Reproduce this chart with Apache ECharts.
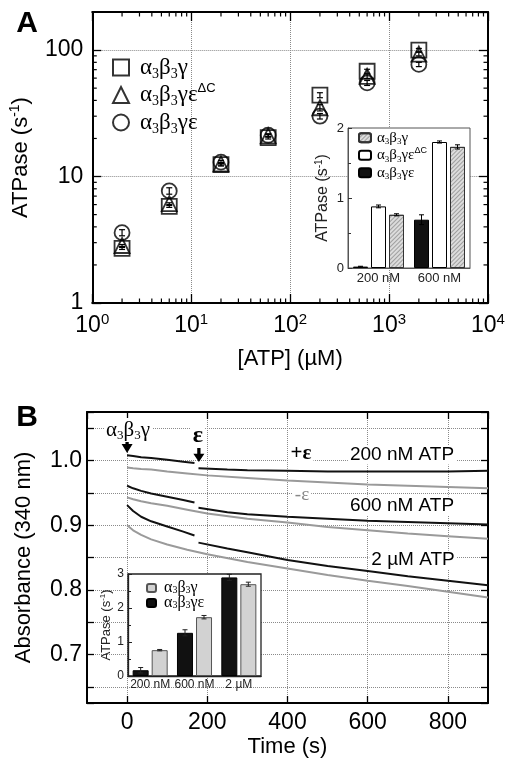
<!DOCTYPE html>
<html><head><meta charset="utf-8">
<script src="https://cdn.jsdelivr.net/npm/echarts@6/dist/echarts.min.js"></script>
<style>html,body{margin:0;padding:0;background:#fff}#c{width:510px;height:759px}</style>
</head><body><div id="c"></div>
<script>
// ---------- Panel A : main log-log plot ----------
const atpA = [2, 6, 20, 60, 200, 600, 2000];            // [ATP] (µM)
const rateGamma  = [2.7, 5.8, 12.4, 20.3, 44, 68, 100];  // α3β3γ
const rateDeltaC = [2.85, 6.1, 12.6, 21.0, 35, 62, 93];  // α3β3γε(ΔC)
const rateEps    = [3.6, 7.7, 13.0, 21.2, 30, 55, 77];   // α3β3γε
const errGamma  = [0.05, 0.1, 0.3, 0.5, 2.0, 2.5, 3.0];
const errDeltaC = [0.05, 0.1, 0.3, 0.5, 2.0, 2.5, 3.0];
const errEps    = [0.2, 0.45, 0.4, 0.6, 1.5, 2.5, 3.0];

// ---------- Panel A : inset bars ----------
const catsInsetA = ['200 nM', '600 nM'];
const insetA_eps    = [0.02, 0.69];
const insetA_deltaC = [0.88, 1.80];
const insetA_gamma  = [0.76, 1.73];
const insetA_errEps    = [0.005, 0.07];
const insetA_errDeltaC = [0.02, 0.015];
const insetA_errGamma  = [0.015, 0.03];

// ---------- Panel B : absorbance traces ----------
const tGray = [0, 15, 35, 60, 100, 150, 200, 300, 400, 500, 600, 700, 800, 900];
const gray200 = [0.989, 0.988, 0.987, 0.986, 0.983, 0.980, 0.977, 0.973, 0.969, 0.966, 0.963, 0.961, 0.959, 0.957];
const gray600 = [0.943, 0.940, 0.937, 0.934, 0.930, 0.924, 0.918, 0.910, 0.904, 0.897, 0.892, 0.887, 0.883, 0.879];
const gray2u  = [0.900, 0.892, 0.885, 0.878, 0.870, 0.862, 0.855, 0.843, 0.833, 0.823, 0.814, 0.806, 0.797, 0.788];
const tBlackPre  = [0, 15, 35, 60, 100, 140, 168];
const tBlackPost = [178, 250, 300, 400, 500, 600, 700, 800, 900];
const black200Pre  = [1.008, 1.007, 1.005, 1.004, 1.001, 0.998, 0.996];
const black200Post = [0.988, 0.986, 0.985, 0.984, 0.983, 0.983, 0.983, 0.983, 0.984];
const black600Pre  = [0.961, 0.957, 0.953, 0.949, 0.944, 0.939, 0.935];
const black600Post = [0.927, 0.920, 0.917, 0.913, 0.910, 0.907, 0.905, 0.903, 0.901];
const black2uPre   = [0.931, 0.922, 0.913, 0.906, 0.898, 0.890, 0.884];
const black2uPost  = [0.873, 0.864, 0.858, 0.846, 0.837, 0.829, 0.821, 0.814, 0.807];
// arrows (time at which each protein was added)
const arrowTimes = [0, 179];
const arrowTops  = [1.024, 1.0093];

// ---------- Panel B : inset bars ----------
const catsInsetB = ['200 nM', '600 nM', '2 µM'];
const insetB_eps   = [0.17, 1.27, 2.90];
const insetB_gamma = [0.76, 1.73, 2.70];
const insetB_errEps   = [0.08, 0.09, 0.09];
const insetB_errGamma = [0.02, 0.05, 0.06];

// ---------- helpers ----------
const F = 'Liberation Sans, Arial, Helvetica, sans-serif';
const FS = 'Liberation Serif, Times New Roman, serif';
function greekRich(fs, lh) {
  return {
    t:  {fontFamily: FS, fontSize: fs, lineHeight: lh, color: '#000'},
    sb: {fontFamily: FS, fontSize: Math.round(fs * 0.62), lineHeight: Math.round(fs * 0.62), verticalAlign: 'bottom', color: '#000'},
    sp: {fontFamily: F, fontSize: Math.round(fs * 0.58), lineHeight: Math.round(fs * 0.58), verticalAlign: 'top', color: '#000'}
  };
}
const G = '{t|α}{sb|3}{t|β}{sb|3}{t|γ}';
const labelMap = {
  sq: G, tri: G + '{t|ε}{sp|ΔC}', circ: G + '{t|ε}',
  iA_g: G, iA_dc: G + '{t|ε}{sp|ΔC}', iA_e: G + '{t|ε}',
  iB_g: G, iB_e: G + '{t|ε}'
};
const zip = (a, b) => a.map((v, i) => [v, b[i]]);

function errRenderLog(params, api) {
  const x = api.value(0), y = api.value(1), e = api.value(2);
  const p1 = api.coord([x, y + e]), p2 = api.coord([x, y - e]);
  const w = 3, st = {stroke: '#000', lineWidth: 1.2};
  return {type: 'group', children: [
    {type: 'line', shape: {x1: p1[0], y1: p1[1], x2: p2[0], y2: p2[1]}, style: st},
    {type: 'line', shape: {x1: p1[0] - w, y1: p1[1], x2: p1[0] + w, y2: p1[1]}, style: st},
    {type: 'line', shape: {x1: p2[0] - w, y1: p2[1], x2: p2[0] + w, y2: p2[1]}, style: st}
  ]};
}
function errRenderBar(bw, gapPx, n, color) {
  return function (params, api) {
    const c = api.value(0), v = api.value(1), e = api.value(2), k = api.value(3);
    const off = (k - (n - 1) / 2) * (bw + gapPx);
    const p1 = api.coord([c, v + e]), p2 = api.coord([c, v - e]);
    const x = p1[0] + off, w = 2.5, st = {stroke: color, lineWidth: 1};
    return {type: 'group', children: [
      {type: 'line', shape: {x1: x, y1: p1[1], x2: x, y2: p2[1]}, style: st},
      {type: 'line', shape: {x1: x - w, y1: p1[1], x2: x + w, y2: p1[1]}, style: st},
      {type: 'line', shape: {x1: x - w, y1: p2[1], x2: x + w, y2: p2[1]}, style: st}
    ]};
  };
}
// minor log ticks (decoration)
const minorTickData = [];
[1, 10, 100, 1000].forEach(d => { for (let m = 2; m <= 9; m++) minorTickData.push([d * m, 1, 0]); });
[1, 10, 100].forEach(d => { for (let m = 2; m <= 9; m++) if (d * m <= 200) minorTickData.push([1, d * m, 1]); });
function minorTickRender(params, api) {
  const cs = params.coordSys, L = 4.5, st = {stroke: '#000', lineWidth: 1.2};
  if (api.value(2) === 0) {
    const px = api.coord([api.value(0), 1])[0];
    return {type: 'group', children: [
      {type: 'line', shape: {x1: px, y1: cs.y + cs.height, x2: px, y2: cs.y + cs.height - L}, style: st},
      {type: 'line', shape: {x1: px, y1: cs.y, x2: px, y2: cs.y + L}, style: st}
    ]};
  } else {
    const py = api.coord([1, api.value(1)])[1];
    return {type: 'group', children: [
      {type: 'line', shape: {x1: cs.x, y1: py, x2: cs.x + L, y2: py}, style: st},
      {type: 'line', shape: {x1: cs.x + cs.width, y1: py, x2: cs.x + cs.width - L, y2: py}, style: st}
    ]};
  }
}

const frameLine = {show: true, onZero: false, lineStyle: {color: '#000', width: 2}};
const tickIn = (len) => ({show: true, inside: true, length: len, lineStyle: {color: '#000', width: 1.3}});
const dotted = {show: true, lineStyle: {color: '#8a8a8a', type: 'dotted', width: 1}};
const noLabel = {show: false};

const chart = echarts.init(document.getElementById('c'));
const option = {
  animation: false,
  backgroundColor: '#fff',
  textStyle: {fontFamily: F},
  grid: [
    {left: 87, top: 12, width: 401, height: 291},
    {left: 348, top: 128, width: 122, height: 140, show: true, backgroundColor: '#fff', borderColor: '#555', borderWidth: 1, z: 3},
    {left: 87, top: 412, width: 401, height: 291},
    {left: 128, top: 574, width: 133, height: 102, show: true, backgroundColor: '#fff', borderColor: '#222', borderWidth: 1.3, z: 3}
  ],
  xAxis: [
    {gridIndex: 0, type: 'log', logBase: 10, min: 1, max: 10000, position: 'bottom',
      axisLine: frameLine, axisTick: tickIn(9), splitLine: dotted,
      axisLabel: {margin: 9, color: '#000',
        formatter: v => '{b|10}{e|' + Math.round(Math.log10(v)) + '}',
        rich: {b: {fontSize: 23, lineHeight: 28, fontFamily: F, color: '#000'},
               e: {fontSize: 15, lineHeight: 15, verticalAlign: 'top', fontFamily: F, color: '#000'}}},
      name: '[ATP] (µM)', nameLocation: 'middle', nameGap: 45,
      nameTextStyle: {fontSize: 22, fontFamily: F, color: '#000'}},
    {gridIndex: 0, type: 'log', logBase: 10, min: 1, max: 10000, position: 'top',
      axisLine: frameLine, axisTick: tickIn(9), axisLabel: noLabel, splitLine: {show: false}},
    {gridIndex: 1, type: 'category', data: catsInsetA, z: 4,
      axisLine: {show: true, lineStyle: {color: '#555', width: 1}}, axisTick: {show: false},
      axisLabel: {fontSize: 13, margin: 4, color: '#222', fontFamily: F, interval: 0}},
    {gridIndex: 2, type: 'value', min: -100, max: 900, splitNumber: 5, position: 'bottom',
      axisLine: frameLine, axisTick: tickIn(7), splitLine: dotted,
      axisLabel: {fontSize: 23, margin: 8, color: '#000', showMinLabel: false, showMaxLabel: false, fontFamily: F},
      name: 'Time (s)', nameLocation: 'middle', nameGap: 33,
      nameTextStyle: {fontSize: 22, fontFamily: F, color: '#000'}},
    {gridIndex: 2, type: 'value', min: -100, max: 900, splitNumber: 5, position: 'top',
      axisLine: frameLine, axisTick: tickIn(7), axisLabel: noLabel, splitLine: {show: false}},
    {gridIndex: 3, type: 'category', data: catsInsetB, z: 4,
      axisLine: {show: true, lineStyle: {color: '#222', width: 1.3}}, axisTick: {show: false},
      axisLabel: {fontSize: 12, margin: 3, color: '#222', fontFamily: F, interval: 0, hideOverlap: false}}
  ],
  yAxis: [
    {gridIndex: 0, type: 'log', logBase: 10, min: 1, max: 200, position: 'left',
      axisLine: frameLine, axisTick: tickIn(9), splitLine: dotted,
      axisLabel: {fontSize: 23, margin: 9, color: '#000', showMaxLabel: false, fontFamily: F},
      name: 'ATPase (s{sp|-1})', nameLocation: 'middle', nameGap: 48, nameRotate: 90,
      nameTextStyle: {fontSize: 22, lineHeight: 26, fontFamily: F, color: '#000',
        rich: {sp: {fontSize: 14, lineHeight: 14, verticalAlign: 'top', fontFamily: F, color: '#000'}}}},
    {gridIndex: 0, type: 'log', logBase: 10, min: 1, max: 200, position: 'right',
      axisLine: frameLine, axisTick: tickIn(9), axisLabel: noLabel, splitLine: {show: false}},
    {gridIndex: 1, type: 'value', min: 0, max: 2, interval: 1, z: 4,
      axisLine: {show: true, lineStyle: {color: '#555', width: 1}},
      axisTick: {show: true, inside: true, length: 4, lineStyle: {color: '#333'}},
      minorTick: {show: true, splitNumber: 2, length: 3, lineStyle: {color: '#333'}},
      splitLine: {show: false},
      axisLabel: {fontSize: 13, margin: 4, color: '#222', fontFamily: F},
      name: 'ATPase (s{sp|-1})', nameLocation: 'middle', nameGap: 16, nameRotate: 90,
      nameTextStyle: {fontSize: 16, lineHeight: 18, fontFamily: F, color: '#222',
        rich: {sp: {fontSize: 10, lineHeight: 10, verticalAlign: 'top', fontFamily: F, color: '#222'}}}},
    {gridIndex: 2, type: 'value', min: 0.625, max: 1.075, splitNumber: 9, position: 'left',
      axisLine: frameLine, axisTick: tickIn(7), splitLine: dotted,
      axisLabel: {fontSize: 23, margin: 5, color: '#000', fontFamily: F,
        formatter: v => { const r = Math.round(v * 10); return Math.abs(v * 10 - r) < 1e-6 ? (r / 10).toFixed(1) : ''; }},
      name: 'Absorbance (340 nm)', nameLocation: 'middle', nameGap: 52, nameRotate: 90,
      nameTextStyle: {fontSize: 22, fontFamily: F, color: '#000'}},
    {gridIndex: 2, type: 'value', min: 0.625, max: 1.075, splitNumber: 9, position: 'right',
      axisLine: frameLine, axisTick: tickIn(7), axisLabel: noLabel, splitLine: {show: false}},
    {gridIndex: 3, type: 'value', min: 0, max: 3, interval: 1, z: 4,
      axisLine: {show: true, lineStyle: {color: '#222', width: 1.3}},
      axisTick: {show: true, inside: true, length: 4, lineStyle: {color: '#222'}},
      minorTick: {show: true, splitNumber: 2, length: 3, lineStyle: {color: '#222'}},
      splitLine: {show: false},
      axisLabel: {fontSize: 12, margin: 4, color: '#222', fontFamily: F},
      name: 'ATPase (s{sp|-1})', nameLocation: 'middle', nameGap: 13, nameRotate: 90,
      nameTextStyle: {fontSize: 13, lineHeight: 15, fontFamily: F, color: '#222',
        rich: {sp: {fontSize: 8, lineHeight: 8, verticalAlign: 'top', fontFamily: F, color: '#222'}}}}
  ],
  legend: [
    {data: ['sq', 'tri', 'circ'], orient: 'vertical', left: 112, top: 54, padding: 0,
      itemWidth: 16, itemHeight: 16, itemGap: 0.5, selectedMode: false,
      formatter: n => labelMap[n],
      textStyle: {fontFamily: FS, fontSize: 23, lineHeight: 27, padding: [0, 0, 0, 6], rich: greekRich(23, 27)}},
    {data: ['iA_g', 'iA_dc', 'iA_e'], orient: 'vertical', left: 358, top: 129, padding: 0, z: 6,
      itemWidth: 12, itemHeight: 9, itemGap: 0, selectedMode: false,
      formatter: n => labelMap[n],
      textStyle: {fontFamily: FS, fontSize: 15, lineHeight: 17.5, padding: [0, 0, 0, 1], rich: greekRich(15, 17.5)}},
    {data: ['iB_g', 'iB_e'], orient: 'vertical', left: 146, top: 580, padding: 0, z: 6,
      itemWidth: 9, itemHeight: 8, itemGap: -1, selectedMode: false,
      formatter: n => labelMap[n],
      textStyle: {fontFamily: FS, fontSize: 16, lineHeight: 15, padding: [0, 0, 0, 3], rich: greekRich(16, 15)}}
  ],
  series: [
    // Panel A scatter
    {type: 'scatter', name: 'sq', xAxisIndex: 0, yAxisIndex: 0, symbol: 'rect', symbolSize: 15, z: 3,
      itemStyle: {color: 'rgba(0,0,0,0)', borderColor: '#000', borderWidth: 1.8}, data: zip(atpA, rateGamma)},
    {type: 'scatter', name: 'tri', xAxisIndex: 0, yAxisIndex: 0, symbol: 'triangle', symbolSize: 15, z: 3,
      itemStyle: {color: 'rgba(0,0,0,0)', borderColor: '#000', borderWidth: 1.8}, data: zip(atpA, rateDeltaC)},
    {type: 'scatter', name: 'circ', xAxisIndex: 0, yAxisIndex: 0, symbol: 'circle', symbolSize: 15, z: 3,
      itemStyle: {color: 'rgba(0,0,0,0)', borderColor: '#000', borderWidth: 1.8}, data: zip(atpA, rateEps)},
    {type: 'custom', xAxisIndex: 0, yAxisIndex: 0, renderItem: errRenderLog, silent: true, z: 3,
      data: [].concat(atpA.map((x, i) => [x, rateGamma[i], errGamma[i]]),
                      atpA.map((x, i) => [x, rateDeltaC[i], errDeltaC[i]]),
                      atpA.map((x, i) => [x, rateEps[i], errEps[i]]))},
    {type: 'custom', xAxisIndex: 0, yAxisIndex: 0, renderItem: minorTickRender, silent: true, z: 3,
      encode: {x: 0, y: 1}, data: minorTickData},
    // Panel A inset bars
    {type: 'bar', name: 'iA_e', xAxisIndex: 2, yAxisIndex: 2, barWidth: 15, barGap: '20%', z: 5,
      itemStyle: {color: '#111', borderColor: '#000', borderWidth: 1}, data: insetA_eps},
    {type: 'bar', name: 'iA_dc', xAxisIndex: 2, yAxisIndex: 2, barWidth: 15, barGap: '20%', z: 5,
      itemStyle: {color: '#fff', borderColor: '#000', borderWidth: 1}, data: insetA_deltaC},
    {type: 'bar', name: 'iA_g', xAxisIndex: 2, yAxisIndex: 2, barWidth: 15, barGap: '20%', z: 5,
      itemStyle: {color: '#dcdcdc', borderColor: '#333', borderWidth: 1,
        decal: {symbol: 'rect', symbolSize: 1, color: 'rgba(110,110,110,0.55)', dashArrayX: [1, 0], dashArrayY: [1, 2], rotation: -Math.PI / 4}},
      data: insetA_gamma},
    {type: 'custom', xAxisIndex: 2, yAxisIndex: 2, renderItem: errRenderBar(15, 3, 3, '#000'), silent: true, z: 6,
      data: [].concat(insetA_eps.map((v, i) => [i, v, insetA_errEps[i], 0]),
                      insetA_deltaC.map((v, i) => [i, v, insetA_errDeltaC[i], 1]),
                      insetA_gamma.map((v, i) => [i, v, insetA_errGamma[i], 2]))},
    // Panel B traces
    {type: 'line', xAxisIndex: 3, yAxisIndex: 3, showSymbol: false, silent: true, z: 2,
      lineStyle: {color: '#9a9a9a', width: 2}, data: zip(tGray, gray200)},
    {type: 'line', xAxisIndex: 3, yAxisIndex: 3, showSymbol: false, silent: true, z: 2,
      lineStyle: {color: '#9a9a9a', width: 2}, data: zip(tGray, gray600)},
    {type: 'line', xAxisIndex: 3, yAxisIndex: 3, showSymbol: false, silent: true, z: 2,
      lineStyle: {color: '#9a9a9a', width: 2}, data: zip(tGray, gray2u)},
    {type: 'line', xAxisIndex: 3, yAxisIndex: 3, showSymbol: false, silent: true, z: 2,
      lineStyle: {color: '#111', width: 2}, data: zip(tBlackPre, black200Pre),
      markPoint: {silent: true, symbol: 'path://M3.5,0 L6.5,0 L6.5,8 L10,8 L5,18 L0,8 L3.5,8 Z',
        itemStyle: {color: '#000'}, label: {show: false},
        data: [{coord: [arrowTimes[0], arrowTops[0]], symbolSize: [11, 16]},
               {coord: [arrowTimes[1], arrowTops[1]], symbolSize: [11, 15]}]}},
    {type: 'line', xAxisIndex: 3, yAxisIndex: 3, showSymbol: false, silent: true, z: 2,
      lineStyle: {color: '#111', width: 2}, data: zip(tBlackPost, black200Post)},
    {type: 'line', xAxisIndex: 3, yAxisIndex: 3, showSymbol: false, silent: true, z: 2,
      lineStyle: {color: '#111', width: 2}, data: zip(tBlackPre, black600Pre)},
    {type: 'line', xAxisIndex: 3, yAxisIndex: 3, showSymbol: false, silent: true, z: 2,
      lineStyle: {color: '#111', width: 2}, data: zip(tBlackPost, black600Post)},
    {type: 'line', xAxisIndex: 3, yAxisIndex: 3, showSymbol: false, silent: true, z: 2,
      lineStyle: {color: '#111', width: 2}, data: zip(tBlackPre, black2uPre)},
    {type: 'line', xAxisIndex: 3, yAxisIndex: 3, showSymbol: false, silent: true, z: 2,
      lineStyle: {color: '#111', width: 2}, data: zip(tBlackPost, black2uPost)},
    // Panel B inset bars
    {type: 'bar', name: 'iB_e', xAxisIndex: 5, yAxisIndex: 5, barWidth: 16, barGap: '19%', z: 5,
      itemStyle: {color: '#111', borderColor: '#000', borderWidth: 1}, data: insetB_eps},
    {type: 'bar', name: 'iB_g', xAxisIndex: 5, yAxisIndex: 5, barWidth: 16, barGap: '19%', z: 5,
      itemStyle: {color: '#d2d2d2', borderColor: '#555', borderWidth: 1}, data: insetB_gamma},
    {type: 'custom', xAxisIndex: 5, yAxisIndex: 5, renderItem: errRenderBar(16, 3, 2, '#222'), silent: true, z: 6,
      data: [].concat(insetB_eps.map((v, i) => [i, v, insetB_errEps[i], 0]),
                      insetB_gamma.map((v, i) => [i, v, insetB_errGamma[i], 1]))}
  ],
  graphic: [
    {type: 'text', x: 27, y: 24, z: 10, style: {text: 'A', font: 'bold 30px ' + F, fill: '#000', align: 'center', verticalAlign: 'middle'}},
    {type: 'text', x: 27, y: 418, z: 10, style: {text: 'B', font: 'bold 30px ' + F, fill: '#000', align: 'center', verticalAlign: 'middle'}},
    {type: 'text', x: 128, y: 430, z: 10, style: {text: G, rich: greekRich(21, 24), align: 'center', verticalAlign: 'middle', backgroundColor: '#fff', padding: [0, 2]}},
    {type: 'text', x: 198, y: 436, z: 10, style: {text: 'ε', font: 'bold 24px ' + FS, fill: '#000', align: 'center', verticalAlign: 'middle', backgroundColor: '#fff', padding: [0, 2]}},
    {type: 'text', x: 301, y: 454, z: 10, style: {text: '+ε', font: 'bold 21px ' + FS, fill: '#000', align: 'center', verticalAlign: 'middle', backgroundColor: '#fff', padding: [0, 2]}},
    {type: 'text', x: 302, y: 495, z: 10, style: {text: '-ε', font: '19px ' + FS, fill: '#888', align: 'center', verticalAlign: 'middle', backgroundColor: '#fff', padding: [0, 2]}},
    {type: 'text', x: 402, y: 455, z: 10, style: {text: '200 nM ATP', font: '19px ' + F, fill: '#000', align: 'center', verticalAlign: 'middle', backgroundColor: '#fff', padding: [0, 2]}},
    {type: 'text', x: 402, y: 506, z: 10, style: {text: '600 nM ATP', font: '19px ' + F, fill: '#000', align: 'center', verticalAlign: 'middle', backgroundColor: '#fff', padding: [0, 2]}},
    {type: 'text', x: 413, y: 560, z: 10, style: {text: '2 µM ATP', font: '19px ' + F, fill: '#000', align: 'center', verticalAlign: 'middle', backgroundColor: '#fff', padding: [0, 2]}}
  ]
};
chart.setOption(option);
</script>
</body></html>
